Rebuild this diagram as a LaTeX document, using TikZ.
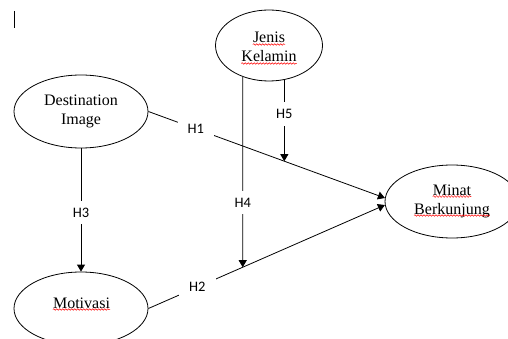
\documentclass[tikz,border=0pt]{standalone}
\usepackage{fontspec}
\setmainfont{Liberation Serif}
\newfontfamily\labfont{Carlito}
\usetikzlibrary{shapes.geometric,arrows.meta,decorations.pathmorphing}
\begin{document}
\begin{tikzpicture}[x=1pt,y=-1pt,
 ell/.style={ellipse,draw,line width=0.8pt,minimum width=134pt,minimum height=73pt,inner sep=0pt},
 wtxt/.style={inner sep=0pt,anchor=base,font=\fontsize{16}{19.5}\selectfont},
 hlab/.style={fill=white,inner xsep=10pt,inner ysep=7pt,font=\labfont\fontsize{14.5}{17}\selectfont},
 conn/.style={line width=0.8pt,-{Triangle[length=7pt,width=8pt]}},
 spell/.style={red,line width=0.5pt,decorate,decoration={snake,segment length=3pt,amplitude=0.8pt}}]
\useasboundingbox (0,0) rectangle (508,339);
\clip (0,0) rectangle (508,339);
% cursor mark
\draw[line width=0.8pt] (14,11) -- (14,28);
% ellipses
\node[ell] (di) at (81,111.5) {};
\node[ell,minimum width=107pt,minimum height=71pt] (jk) at (269,45.5) {};
\node[ell] (mo) at (81,308.5) {};
\node[ell] (mb) at (452,201.5) {};
% texts
\node[wtxt] (t1) at (81,106) {Destination};
\node[wtxt] (t2) at (81,125) {Image};
\node[wtxt] (t3) at (269,43) {Jenis};
\node[wtxt] (t4) at (269,62) {Kelamin};
\node[wtxt] (t5) at (452,195) {Minat};
\node[wtxt] (t6) at (452,214) {Berkunjung};
\node[wtxt] (t7) at (81.5,308) {Motivasi};
\foreach \n in {t3,t4,t5,t6,t7}
  \draw[spell] ([yshift=-1.5pt]\n.base west) -- ([yshift=-1.5pt]\n.base east);
% connectors
\draw[conn] (di.east) -- node[hlab,pos=0.2] (h1) {H1} (mb.177);
\draw[conn] (mo.east) -- node[hlab,pos=0.207] (h2) {H2} (mb.183);
\draw[conn] (di.south) -- node[hlab,pos=0.52] (h3) {H3} (mo.north);
\path (jk.230) ++(0,300) coordinate (v4);
\path (jk.294) ++(0,300) coordinate (v5);
\coordinate (e4) at (intersection of mo.east--mb.183 and jk.230--v4);
\coordinate (e5) at (intersection of di.east--mb.177 and jk.294--v5);
\draw[conn] (jk.230) -- node[hlab,pos=0.66] (h4) {H4} (e4);
\draw[conn] (jk.294) -- node[hlab,pos=0.42] (h5) {H5} (e5);
\end{tikzpicture}
\end{document}
